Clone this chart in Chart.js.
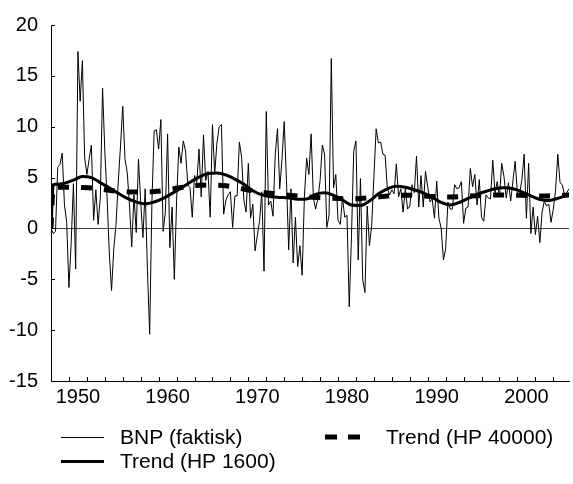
<!DOCTYPE html>
<html><head><meta charset="utf-8">
<script src="https://cdn.jsdelivr.net/npm/chart.js@4.4.1/dist/chart.umd.min.js"></script>
<style>html,body{margin:0;padding:0;background:#fff;overflow:hidden}canvas{display:block}</style>
</head><body>
<canvas id="c" width="573" height="484"></canvas>
<script>
// Quarterly BNP growth, 1947Q1 .. 2004Q4
const firstQuarterYear = 1947;
const bnpValues = [
  0, -0.5, -0.3, 6.0,
  6.3, 7.4, 2.3, 0.6,
  -5.8, -1.4, 4.4, -4.0,
  17.4, 12.5, 16.5, 7.0,
  5.3, 6.8, 8.2, 0.8,
  3.8, 0.4, 3.1, 13.8,
  7.6, 3.1, -2.4, -6.1,
  -2.0, 0.4, 4.6, 8.1,
  12.0, 6.8, 5.5, 2.3,
  -1.8, 3.3, -0.4, 6.8,
  2.6, -0.9, 3.9, -4.1,
  -10.4, 2.6, 9.6, 9.7,
  7.8, 10.7, -0.3, 1.6,
  9.3, -1.9, 2.1, -5.0,
  2.6, 8.0, 6.4, 8.6,
  7.6, 4.3, 4.0, 1.1,
  5.2, 4.5, 7.8, 3.1,
  9.2, 4.7, 5.6, 1.1,
  10.2, 5.4, 8.4, 10.0,
  10.2, 1.4, 2.8, 3.3,
  3.6, 0.1, 3.2, 3.2,
  8.5, 7.0, 2.8, 1.6,
  6.4, 1.0, 2.4, -2.2,
  -0.7, 0.7, 3.6, -4.2,
  11.5, 2.3, 2.7, 1.2,
  7.3, 9.8, 3.9, 6.8,
  10.5, 4.7, -2.1, 3.9,
  -3.4, 1.1, -3.75, -1.7,
  -4.6, 3.1, 6.9, 5.3,
  9.3, 3.0, 1.9, 2.9,
  4.7, 8.2, 7.3, 0.1,
  1.3, 16.7, 4.0, 5.3,
  0.8, 0.4, 3.0, 1.1,
  1.3, -7.7, -0.7, 7.6,
  8.6, -3.1, 4.9, -5.0,
  -6.3, 2.2, -1.7, 0.3,
  5.1, 9.8, 8.4, 8.5,
  7.3, 7.2, 3.9, 3.3,
  3.8, 3.4, 6.35, 3.1,
  3.9, 1.6, 3.9, 1.9,
  2.2, 4.3, 3.5, 7.1,
  2.1, 5.2, 2.1, 5.6,
  4.1, 2.6, 2.9, 1.0,
  4.65, 1.0, 0.0, -3.1,
  -2.0, 2.6, 1.9, 1.9,
  4.3, 3.9, 4.0, 4.6,
  0.5, 2.0, 2.1, 5.9,
  4.1, 5.3, 2.3, 4.8,
  1.1, 0.7, 3.3, 3.0,
  2.9, 6.7, 3.5, 4.6,
  3.1, 6.4, 5.1, 3.0,
  4.5, 2.7, 4.7, 6.6,
  3.4, 3.4, 4.8, 7.3,
  1.0, 6.4, -0.5, 2.1,
  -0.6, 1.2, -1.4, 1.6,
  2.7, 2.2, 2.4, 0.6,
  1.9, 3.7, 7.3, 4.5,
  4.3, 3.3, 3.5, 3.9
];

// Trend curves read at these times
const trendTimes = [
  1947, 1947.25, 1947.5, 1948.5, 1949.5, 1950.5, 1951.5, 1952.5, 1953.5, 1954.5,
  1955.5, 1956.5, 1957.5, 1958.5, 1959.5, 1960.5, 1961.5, 1962.5, 1963.5, 1964.5,
  1965.5, 1966.5, 1967.5, 1968.5, 1969.5, 1970.5, 1971.5, 1972.5, 1973.5, 1974.5,
  1975.5, 1976.5, 1977.5, 1978.5, 1979.5, 1980.5, 1981.5, 1982.5, 1983.5, 1984.5,
  1985.5, 1986.5, 1987.5, 1988.5, 1989.5, 1990.5, 1991.5, 1992.5, 1993.5, 1994.5,
  1995.5, 1996.5, 1997.5, 1998.5, 1999.5, 2000.5, 2001.5, 2002.5, 2003.5, 2004.5,
  2004.75
];
const hp1600Values = [
  0, 4.3, 4.35, 4.45, 4.75, 5.1, 5.0, 4.5, 4.0, 3.45,
  2.95, 2.6, 2.42, 2.6, 2.95, 3.45, 3.95, 4.55, 5.05, 5.4,
  5.45, 5.25, 4.85, 4.35, 3.7, 3.3, 3.12, 3.05, 3.0, 2.88,
  2.9, 3.35, 3.5, 3.25, 2.8, 2.3, 2.25, 2.7, 3.4, 3.9,
  4.15, 4.05, 3.8, 3.5, 3.05, 2.55, 2.3, 2.55, 2.95, 3.35,
  3.65, 3.9, 4.0, 3.9, 3.6, 3.2, 2.85, 2.75, 2.95, 3.3,
  3.4
];
const hp40000Values = [
  0, 4.05, 4.05, 4.06, 4.05, 4.02, 3.97, 3.87, 3.75, 3.65,
  3.6, 3.57, 3.57, 3.62, 3.72, 3.88, 4.02, 4.15, 4.24, 4.28,
  4.26, 4.2, 4.05, 3.86, 3.68, 3.55, 3.45, 3.34, 3.26, 3.18,
  3.1, 3.05, 3.0, 2.96, 2.93, 2.92, 2.95, 3.02, 3.1, 3.18,
  3.25, 3.27, 3.24, 3.2, 3.15, 3.11, 3.1, 3.12, 3.17, 3.22,
  3.26, 3.28, 3.29, 3.28, 3.26, 3.23, 3.2, 3.2, 3.23, 3.27,
  3.28
];

const yTicks = [-15, -10, -5, 0, 5, 10, 15, 20];
const xLabelYears = [1950, 1960, 1970, 1980, 1990, 2000];
const xMinorTickYears = [];
for (let y = 1949; y <= 2003; y += 2) xMinorTickYears.push(y);
const legendLabels = ['BNP (faktisk)', 'Trend (HP 1600)', 'Trend (HP 40000)'];

const FONT = '"Liberation Sans", Arial, sans-serif';
Chart.defaults.font.family = FONT;
Chart.defaults.color = '#000';

const bnpData = bnpValues.map((v, i) => ({ x: firstQuarterYear + i / 4, y: v }));
const hp1600Data = trendTimes.map((t, i) => ({ x: t, y: hp1600Values[i] }));
const hp40000Data = trendTimes.map((t, i) => ({ x: t, y: hp40000Values[i] }));

const tickPlugin = {
  id: 'insideTicks',
  afterDraw(chart) {
    const { ctx, chartArea, scales } = chart;
    ctx.save();
    ctx.strokeStyle = '#000';
    ctx.lineWidth = 1;
    ctx.beginPath();
    xMinorTickYears.forEach(y => {
      const px = Math.round(scales.x.getPixelForValue(y)) + 0.5;
      ctx.moveTo(px, chartArea.bottom);
      ctx.lineTo(px, chartArea.bottom - 4);
    });
    yTicks.forEach(v => {
      const py = Math.round(scales.y.getPixelForValue(v)) + 0.5;
      ctx.moveTo(chartArea.left, py);
      ctx.lineTo(chartArea.left + 4, py);
    });
    ctx.stroke();

    // legend
    ctx.fillStyle = '#000';
    ctx.font = '21px ' + FONT;
    ctx.textBaseline = 'alphabetic';
    ctx.textAlign = 'left';
    ctx.beginPath();
    ctx.lineWidth = 1;
    ctx.moveTo(61, 437.5); ctx.lineTo(104, 437.5);
    ctx.stroke();
    ctx.fillText(legendLabels[0], 120, 444);
    ctx.beginPath();
    ctx.lineWidth = 3;
    ctx.moveTo(61, 461.5); ctx.lineTo(104, 461.5);
    ctx.stroke();
    ctx.fillText(legendLabels[1], 120, 468);
    ctx.beginPath();
    ctx.lineWidth = 5;
    ctx.moveTo(325, 437); ctx.lineTo(337, 437);
    ctx.moveTo(348, 437); ctx.lineTo(360, 437);
    ctx.stroke();
    ctx.fillText(legendLabels[2], 386, 444);
    ctx.restore();
  }
};

new Chart(document.getElementById('c'), {
  type: 'line',
  data: {
    datasets: [
      { label: legendLabels[0], data: bnpData, borderColor: '#000', borderWidth: 1, pointRadius: 0, tension: 0, order: 3 },
      { label: legendLabels[1], data: hp1600Data, borderColor: '#000', borderWidth: 3, pointRadius: 0, cubicInterpolationMode: 'monotone', order: 2 },
      { label: legendLabels[2], data: hp40000Data, borderColor: '#000', borderWidth: 5, borderDash: [11, 12], borderCapStyle: 'butt', pointRadius: 0, cubicInterpolationMode: 'monotone', order: 1 }
    ]
  },
  options: {
    responsive: false,
    animation: false,
    devicePixelRatio: 1,
    layout: { padding: { top: 23, left: 0, right: 0, bottom: 0 } },
    plugins: { legend: { display: false }, tooltip: { enabled: false } },
    scales: {
      x: {
        type: 'linear',
        min: 1947,
        max: 2004.75,
        afterFit(s) { s.height = 103; },
        afterBuildTicks(s) { s.ticks = [{ value: 1947 }].concat(xLabelYears.map(v => ({ value: v }))).concat([{ value: 2004.75 }]); },
        ticks: {
          autoSkip: false, maxRotation: 0, minRotation: 0, padding: 4,
          font: { size: 20 },
          callback: v => (xLabelYears.includes(v) ? String(v) : '')
        },
        grid: { display: false, drawTicks: false },
        border: { display: true, color: '#000', width: 1 }
      },
      y: {
        min: -15,
        max: 20,
        afterFit(s) { s.width = 51; },
        afterBuildTicks(s) { s.ticks = yTicks.map(v => ({ value: v })); },
        ticks: { padding: 13, font: { size: 20 }, callback: v => String(v) },
        grid: {
          drawTicks: false,
          color: ctx => (ctx.tick && ctx.tick.value === 0 ? '#404040' : 'rgba(0,0,0,0)'),
          lineWidth: 1
        },
        border: { display: true, color: '#000', width: 1 }
      }
    }
  },
  plugins: [tickPlugin]
});
</script>
</body></html>
